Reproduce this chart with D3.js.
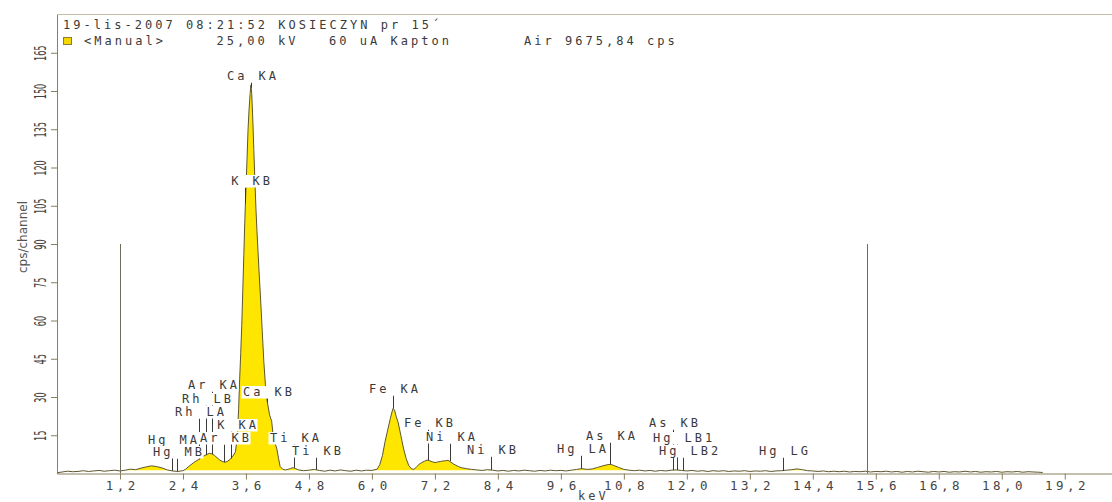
<!DOCTYPE html>
<html>
<head>
<meta charset="utf-8">
<script src="https://cdn.jsdelivr.net/npm/d3@7"></script>
<style>
  html, body { margin: 0; padding: 0; background: #ffffff; }
  svg { display: block; }
</style>
</head>
<body>
<svg id="chart" width="1112" height="502"></svg>
<script>
// ---- Spectrum: energy (keV) and counts (cps/channel) ----
const energyKeV = [
  0.0, 0.1, 0.2, 0.3, 0.4, 0.5, 0.6, 0.7, 0.8, 0.9,
  1.0, 1.1, 1.2, 1.3, 1.4, 1.5, 1.6, 1.7, 1.8, 1.9,
  2.0, 2.1, 2.2, 2.3, 2.4, 2.45, 2.5, 2.55, 2.6, 2.65,
  2.7, 2.75, 2.8, 2.85, 2.9, 2.95, 3.0, 3.05, 3.1, 3.15,
  3.2, 3.25, 3.3, 3.35, 3.4, 3.42, 3.44, 3.46, 3.48, 3.5,
  3.52, 3.54, 3.56, 3.58, 3.6, 3.62, 3.64, 3.66, 3.68, 3.695,
  3.71, 3.73, 3.75, 3.77, 3.79, 3.81, 3.83, 3.85, 3.88, 3.91,
  3.94, 3.97, 4.0, 4.02, 4.05, 4.09, 4.12, 4.15, 4.185, 4.22,
  4.25, 4.3, 4.35, 4.4, 4.45, 4.5, 4.55, 4.6, 4.7, 4.8,
  4.9, 5.0, 5.1, 5.2, 5.3, 5.4, 5.5, 5.6, 5.7, 5.8,
  5.9, 6.0, 6.1, 6.15, 6.2, 6.25, 6.3, 6.35, 6.4, 6.43,
  6.46, 6.5, 6.55, 6.6, 6.65, 6.7, 6.75, 6.8, 6.85, 6.9,
  6.95, 7.0, 7.05, 7.1, 7.15, 7.2, 7.25, 7.3, 7.35, 7.4,
  7.45, 7.5, 7.55, 7.6, 7.65, 7.7, 7.8, 7.9, 8.0, 8.1,
  8.2, 8.3, 8.4, 8.5, 8.6, 8.7, 8.8, 8.9, 9.0, 9.1,
  9.2, 9.3, 9.4, 9.5, 9.6, 9.7, 9.8, 9.9, 10.0, 10.1,
  10.2, 10.3, 10.4, 10.5, 10.55, 10.6, 10.7, 10.8, 10.9, 11.0,
  11.1, 11.2, 11.3, 11.4, 11.5, 11.6, 11.7, 11.8, 11.9, 12.0,
  12.1, 12.2, 12.3, 12.4, 12.5, 12.6, 12.7, 12.8, 12.9, 13.0,
  13.1, 13.2, 13.3, 13.4, 13.5, 13.6, 13.7, 13.8, 13.9, 14.0,
  14.1, 14.2, 14.3, 14.4, 14.5, 14.6, 14.7, 14.8, 14.9, 15.0,
  15.1, 15.2, 15.3, 15.4, 15.5, 15.6, 15.7, 15.8, 15.9, 16.0,
  16.1, 16.2, 16.3, 16.4, 16.5, 16.6, 16.7, 16.8, 16.9, 17.0,
  17.1, 17.2, 17.3, 17.4, 17.5, 17.6, 17.7, 17.8, 17.9, 18.0,
  18.1, 18.2, 18.3, 18.4, 18.5, 18.6, 18.7, 18.78
];
const cpsPerChannel = [
  0.3, 0.6, 0.9, 0.7, 0.8, 1.1, 0.8, 1.0, 1.2, 0.9,
  1.1, 1.3, 1.0, 1.3, 1.7, 1.5, 2.1, 2.6, 3.0, 2.7,
  2.2, 1.4, 1.0, 0.8, 1.1, 1.7, 2.6, 3.4, 4.2, 4.9,
  5.5, 6.3, 6.9, 7.4, 7.9, 7.7, 7.1, 6.2, 5.3, 4.7,
  4.4, 4.8, 5.6, 6.8, 8.5, 12, 17, 25, 37, 47,
  58, 72, 86, 100, 112, 123, 135, 143, 149, 152.4,
  149, 139, 127, 115, 104, 95, 87, 79, 68, 56,
  44, 35, 29, 26.5, 23, 20.5, 14.5, 12, 10, 6,
  2.8, 1.7, 1.4, 1.6, 2.0, 2.3, 1.9, 1.4, 1.1, 1.3,
  1.6, 1.2, 0.9, 1.3, 1.0, 1.4, 1.1, 0.9, 1.3, 1.0,
  1.3, 1.2, 1.7, 3.5, 7, 12.5, 17, 21.5, 25.5, 25,
  22.5, 20, 15, 10, 6, 3.2, 1.9, 1.6, 2.6, 3.6,
  4.3, 4.8, 5.3, 5.0, 4.6, 4.3, 4.5, 4.7, 4.9, 5.0,
  5.2, 4.5, 3.8, 3.2, 2.7, 2.3, 1.9, 1.6, 1.4, 1.2,
  1.5, 1.3, 1.0, 1.2, 0.9, 1.2, 1.0, 1.3, 1.1, 0.9,
  1.2, 1.0, 1.3, 1.1, 1.2, 1.0, 1.3, 1.6, 1.9, 1.6,
  1.8, 2.4, 3.0, 3.5, 3.6, 3.2, 2.4, 1.6, 1.3, 1.1,
  1.3, 1.0, 1.2, 0.9, 1.2, 1.0, 1.3, 1.4, 1.2, 1.0,
  1.2, 0.9, 1.1, 0.8, 1.1, 0.9, 1.1, 0.8, 1.0, 0.9,
  1.1, 0.8, 1.0, 0.9, 1.1, 0.8, 1.0, 1.1, 1.3, 1.5,
  1.8, 1.5, 1.1, 1.0, 0.8, 1.0, 0.7, 0.9, 0.7, 0.9,
  0.6, 0.8, 0.7, 0.9, 0.6, 0.8, 0.7, 0.9, 0.6, 0.8,
  0.5, 0.8, 0.6, 0.9, 0.7, 0.5, 0.8, 0.6, 0.8, 0.5,
  0.7, 0.6, 0.9, 0.6, 0.8, 0.5, 0.7, 0.6, 0.8, 0.5,
  0.7, 0.6, 0.8, 0.5, 0.7, 0.6, 0.5, 0.4
];
// continuum level above which the peak area is shaded
const continuumCps = 1.3;

// ---- Axes ----
const xTickValues = [1.2, 2.4, 3.6, 4.8, 6.0, 7.2, 8.4, 9.6, 10.8, 12.0, 13.2, 14.4, 15.6, 16.8, 18.0, 19.2];
const xTickLabels = ["1,2", "2,4", "3,6", "4,8", "6,0", "7,2", "8,4", "9,6", "10,8", "12,0", "13,2", "14,4", "15,6", "16,8", "18,0", "19,2"];
const yTickValues = [15, 30, 45, 60, 75, 90, 105, 120, 135, 150, 165];
const xAxisTitle = "keV";
const yAxisTitle = "cps/channel";

// ---- Region-of-interest markers ----
const roiEnergies = [1.2, 15.44];
const roiCps = 90;

// ---- Identified emission lines ----
const lineElements = ["Ca", "K", "Ca", "Ti", "Ti", "Ar", "Rh", "Rh", "K", "Ar", "Hg", "Hg",
                      "Fe", "Fe", "Ni", "Ni", "Hg", "As", "As", "Hg", "Hg", "Hg"];
const lineNames = ["KA", "KB", "KB", "KA", "KB", "KA", "LB", "LA", "KA", "KB", "MA", "MB",
                   "KA", "KB", "KA", "KB", "LA", "KA", "KB", "LB1", "LB2", "LG"];
const lineEnergies = [3.69, 3.59, 4.01, 4.51, 4.93, 2.96, 2.83, 2.70, 3.31, 3.19, 2.195, 2.28,
                      6.40, 7.06, 7.48, 8.26, 9.99, 10.54, 11.73, 11.82, 11.92, 13.83];
// level (cps) of each label's text baseline
const labelCps = [154.3, 113.1, 30.4, 12.2, 7.4, 33.1, 27.6, 22.5, 17.5, 12.2, 11.6, 7.0,
                  31.6, 18.1, 12.9, 7.6, 7.9, 13.1, 18.1, 12.5, 7.3, 7.3];

// ---- Header ----
const headerTitle = "19-lis-2007 08:21:52 KOSIECZYN pr 15´";
const headerFields = ["<Manual>", "25,00 kV", "60 uA Kapton", "Air 9675,84 cps"];

// ================= drawing =================
const plotLeft = 57, plotRight = 1112, plotTop = 14.5, plotBottom = 473.5;

const svg = d3.select("#chart");
const x = d3.scaleLinear().domain([0, 20.1]).range([plotLeft, plotRight]);
const y = d3.scaleLinear().domain([0, 180]).range([plotBottom, plotTop]);

const axisColor = "#8a7f5c";
const textColor = "#3a3a3a";
const mono = "'DejaVu Sans Mono', 'Liberation Mono', monospace";
const monoSize = 12, monoGlyph = 7.225, monoAdv = 10.25;
const monoSpacing = monoAdv - monoGlyph;

const spectrum = energyKeV.map((e, i) => ({ e, c: cpsPerChannel[i] }));

// frame top line
svg.append("line")
  .attr("x1", plotLeft).attr("x2", plotRight)
  .attr("y1", plotTop).attr("y2", plotTop)
  .attr("stroke", "#c4bca4").attr("stroke-width", 1);

// shaded peak area above the continuum
const area = d3.area()
  .x(d => x(d.e))
  .y0(y(continuumCps))
  .y1(d => y(Math.max(d.c, continuumCps)));
svg.append("path")
  .datum(spectrum)
  .attr("d", area)
  .attr("fill", "#ffe600");

// spectrum trace
const trace = d3.line().x(d => x(d.e)).y(d => y(d.c));
svg.append("path")
  .datum(spectrum)
  .attr("d", trace)
  .attr("fill", "none")
  .attr("stroke", "#5c5730")
  .attr("stroke-width", 1);

// region-of-interest markers
svg.selectAll("line.roi")
  .data(roiEnergies)
  .join("line")
  .attr("class", "roi")
  .attr("x1", d => Math.round(x(d)) + 0.5).attr("x2", d => Math.round(x(d)) + 0.5)
  .attr("y1", y(0)).attr("y2", y(roiCps))
  .attr("stroke", "#6e6c5a").attr("stroke-width", 1);

// x axis
const gx = svg.append("g")
  .attr("transform", `translate(0,${plotBottom})`)
  .call(d3.axisBottom(x)
    .tickValues(xTickValues)
    .tickFormat((d, i) => xTickLabels[i])
    .tickSizeInner(6)
    .tickSizeOuter(0));
gx.select(".domain").attr("stroke", axisColor);
gx.selectAll(".tick line").attr("stroke", axisColor);
const tickAdv = 11.0, tickSize = 12.5, tickGlyph = 0.602 * 12.5;
gx.selectAll(".tick text")
  .attr("font-family", mono)
  .attr("font-size", tickSize)
  .attr("letter-spacing", tickAdv - tickGlyph)
  .attr("fill", "#444")
  .attr("text-anchor", "start")
  .attr("dy", 0)
  .attr("y", 16.5)
  .attr("x", (d, i) => -((xTickLabels[i].length - 1) * tickAdv + tickGlyph) / 2);

// y axis
const gy = svg.append("g")
  .attr("transform", `translate(${plotLeft},0)`)
  .call(d3.axisLeft(y)
    .tickValues(yTickValues)
    .tickSizeInner(6)
    .tickSizeOuter(0));
gy.select(".domain").attr("stroke", axisColor);
gy.selectAll(".tick line").attr("stroke", axisColor);
gy.selectAll(".tick text")
  .attr("font-family", "'DejaVu Sans', sans-serif")
  .attr("font-size", 16.5)
  .attr("fill", "#444")
  .attr("text-anchor", "middle")
  .attr("x", null).attr("dy", null).attr("y", null)
  .attr("transform", "translate(-11,0) rotate(-90)")
  .attr("textLength", d => String(d).length * 5.2)
  .attr("lengthAdjust", "spacingAndGlyphs");

// axis titles
svg.append("text")
  .attr("transform", "translate(26.5,237) rotate(-90)")
  .attr("text-anchor", "middle")
  .attr("font-family", "'DejaVu Sans', sans-serif")
  .attr("font-size", 12)
  .attr("fill", "#555")
  .text(yAxisTitle);

svg.append("text")
  .attr("x", 578).attr("y", 500)
  .attr("font-family", mono)
  .attr("font-size", monoSize)
  .attr("letter-spacing", monoSpacing)
  .attr("fill", "#444")
  .text(xAxisTitle);

// emission line markers and labels
function cpsAt(e) {
  const i = d3.bisector(d => d.e).left(spectrum, e);
  if (i <= 0) return spectrum[0].c;
  if (i >= spectrum.length) return spectrum[spectrum.length - 1].c;
  const a = spectrum[i - 1], b = spectrum[i];
  return a.c + (b.c - a.c) * (e - a.e) / (b.e - a.e);
}
const wordWidth = s => (s.length - 1) * monoAdv + monoGlyph;
const gapHalf = 7;

const labels = lineElements.map((el, i) => {
  const mx = Math.round(x(lineEnergies[i])) + 0.5;
  const base = Math.round(y(labelCps[i]));
  const elStart = mx - gapHalf - wordWidth(el);
  const lnStart = mx + gapHalf;
  return { el, ln: lineNames[i], mx, base, elStart, lnStart,
           peakY: y(cpsAt(lineEnergies[i])) };
});

const markerLayer = svg.append("g");
markerLayer.selectAll("line")
  .data(labels)
  .join("line")
  .attr("x1", d => d.mx).attr("x2", d => d.mx)
  .attr("y1", d => d.base + 2.5)
  .attr("y2", d => Math.max(d.peakY, d.base + 2.5))
  .attr("stroke", "#3a3a3a").attr("stroke-width", 1);

const labelLayer = svg.append("g");
const lg = labelLayer.selectAll("g")
  .data(labels)
  .join("g");
lg.append("rect")
  .attr("x", d => d.elStart - 1.5)
  .attr("y", d => d.base - 10)
  .attr("width", d => d.lnStart + wordWidth(d.ln) - d.elStart + 3)
  .attr("height", 12.5)
  .attr("fill", "#ffffff");
lg.append("text")
  .attr("x", d => d.elStart).attr("y", d => d.base)
  .text(d => d.el);
lg.append("text")
  .attr("x", d => d.lnStart).attr("y", d => d.base)
  .text(d => d.ln);
lg.selectAll("text")
  .attr("font-family", mono)
  .attr("font-size", monoSize)
  .attr("letter-spacing", monoSpacing)
  .attr("fill", textColor);

// header
const header = svg.append("g")
  .attr("font-family", mono)
  .attr("font-size", monoSize)
  .attr("letter-spacing", monoSpacing)
  .attr("fill", textColor);
header.append("text").attr("x", 63).attr("y", 28.5).text(headerTitle);
header.append("rect")
  .attr("x", 63.5).attr("y", 37.5).attr("width", 8).attr("height", 7)
  .attr("fill", "#f5d800").attr("stroke", "#8c7c30").attr("stroke-width", 1);
const fieldX = [84, 216.5, 329, 524];
header.selectAll("text.field")
  .data(headerFields)
  .join("text")
  .attr("class", "field")
  .attr("x", (d, i) => fieldX[i]).attr("y", 45)
  .text(d => d);
</script>
</body>
</html>
